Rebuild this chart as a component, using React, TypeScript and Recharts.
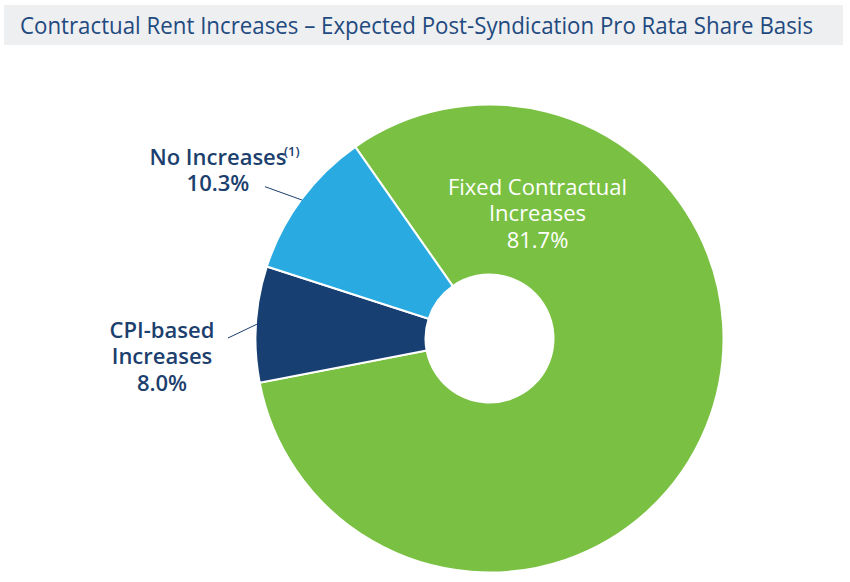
import React from 'react';
import { PieChart, Pie, Cell } from 'recharts';

const categories = ['Fixed Contractual Increases', 'CPI-based Increases', 'No Increases'];
const shares = [81.7, 8.0, 10.3];
const shareLabels = ['81.7%', '8.0%', '10.3%'];
const labelLines = [
  ['Fixed Contractual', 'Increases'],
  ['CPI-based', 'Increases'],
  ['No Increases'],
];
const colors = ['#7AC143', '#173F72', '#29ABE2'];

const TITLE = 'Contractual Rent Increases – Expected Post-Syndication Pro Rata Share Basis';
const TEXT_NAVY = '#1C3F6E';
const FONT = '"Open Sans", sans-serif';

const chartData = categories.map((name, i) => ({
  name,
  value: shares[i],
  pct: shareLabels[i],
  lines: labelLines[i],
}));

// label placement relative to the pie centre
const layout = [
  { dx: 48, dy: -143.5, fill: '#ffffff', weight: 500, line: null },
  { dx: -327.5, dy: -0.5, fill: TEXT_NAVY, weight: 600, line: [-261.5, -0.5] },
  { dx: -271.5, dy: -173.5, fill: TEXT_NAVY, weight: 600, line: [-224.5, -151.8] },
];

const RAD = Math.PI / 180;

const renderLabel = (props: any) => {
  const { cx, cy, midAngle, outerRadius, index, payload } = props;
  const l = layout[index];
  const x = cx + l.dx;
  const y = cy + l.dy;
  const rows: string[] = [...payload.lines, payload.pct];
  let leader = null;
  if (l.line) {
    const sx = cx + (outerRadius - 1) * Math.cos(-midAngle * RAD);
    const sy = cy + (outerRadius - 1) * Math.sin(-midAngle * RAD);
    leader = (
      <line x1={sx} y1={sy} x2={cx + l.line[0]} y2={cy + l.line[1]} stroke={TEXT_NAVY} strokeWidth={1} />
    );
  }
  return (
    <g key={`lbl-${index}`}>
      {leader}
      {rows.map((r, i) => (
        <text
          key={i}
          x={x}
          y={y + i * 26.3}
          textAnchor="middle"
          fill={l.fill}
          fontFamily={FONT}
          fontWeight={l.weight}
          fontSize={22}
        >
          {r}
        </text>
      ))}
      {index === 2 && (
        <text x={x + 66} y={y - 9} fill={l.fill} fontFamily={FONT} fontWeight={600} fontSize={13}>
          (1)
        </text>
      )}
    </g>
  );
};

export default function App() {
  return (
    <div style={{ position: 'absolute', left: 0, top: 0, width: 850, height: 582, background: '#fff' }}>
      <svg width={850} height={50} style={{ position: 'absolute', left: 0, top: 0 }}>
        <rect x={4} y={5} width={839} height={40} fill="#EEEFF1" />
        <text
          x={20}
          y={34}
          fill="#1F4A7F"
          fontFamily={FONT}
          fontSize={23}
          textLength={793}
          lengthAdjust="spacingAndGlyphs"
        >
          {TITLE}
        </text>
      </svg>
      <div style={{ position: 'absolute', left: 0, top: 0 }}>
        <PieChart width={850} height={582} margin={{ top: 0, right: 0, bottom: 0, left: 0 }}>
          <Pie
            data={chartData}
            dataKey="value"
            nameKey="name"
            cx={489.5}
            cy={338.5}
            innerRadius={64}
            outerRadius={234}
            startAngle={125}
            endAngle={-235}
            stroke="#ffffff"
            strokeWidth={2}
            label={renderLabel}
            labelLine={false}
            isAnimationActive={false}
          >
            {chartData.map((d, i) => (
              <Cell key={d.name} fill={colors[i]} />
            ))}
          </Pie>
        </PieChart>
      </div>
    </div>
  );
}
